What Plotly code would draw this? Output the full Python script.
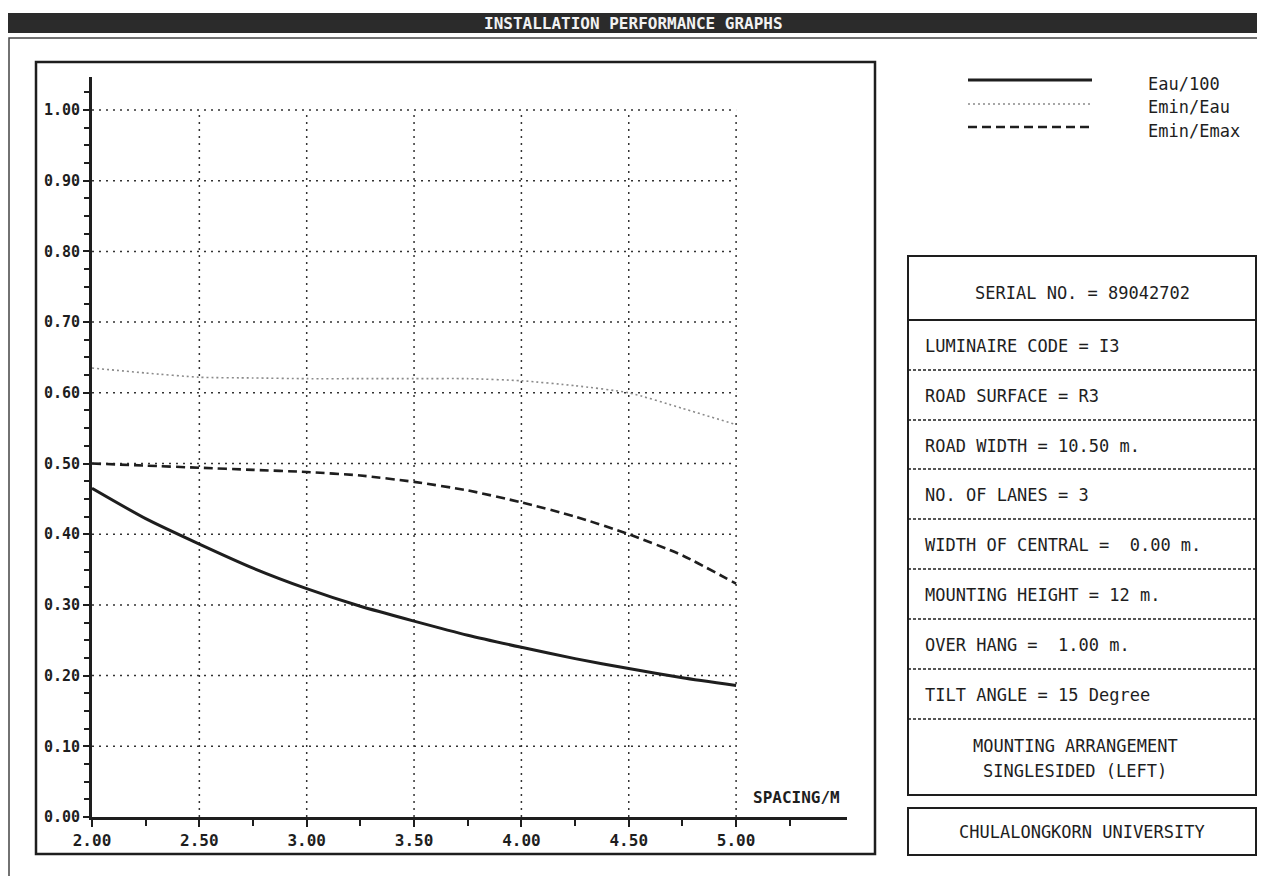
import plotly.graph_objects as go

# ---------------- data ----------------
spacing = [2.00, 2.25, 2.50, 2.75, 3.00, 3.25, 3.50, 3.75, 4.00, 4.25, 4.50, 4.75, 5.00]
eau_100 = [0.465, 0.422, 0.386, 0.352, 0.323, 0.298, 0.277, 0.257, 0.240, 0.224, 0.210, 0.197, 0.186]
emin_eau = [0.635, 0.628, 0.622, 0.621, 0.620, 0.620, 0.620, 0.620, 0.617, 0.610, 0.600, 0.578, 0.555]
emin_emax = [0.500, 0.497, 0.494, 0.491, 0.488, 0.483, 0.474, 0.462, 0.445, 0.425, 0.400, 0.370, 0.330]

series_names = ["Eau/100", "Emin/Eau", "Emin/Emax"]

x_ticks = [2.00, 2.50, 3.00, 3.50, 4.00, 4.50, 5.00]
x_tick_labels = ["2.00", "2.50", "3.00", "3.50", "4.00", "4.50", "5.00"]
x_minor = [2.25, 2.75, 3.25, 3.75, 4.25, 4.75, 5.25]
y_ticks = [0.0, 0.1, 0.2, 0.3, 0.4, 0.5, 0.6, 0.7, 0.8, 0.9, 1.0]
y_tick_labels = ["0.00", "0.10", "0.20", "0.30", "0.40", "0.50", "0.60", "0.70", "0.80", "0.90", "1.00"]
y_minor = [round(0.025 * i, 3) for i in range(1, 42) if i % 4 != 0]

info_rows = [
    "LUMINAIRE CODE = I3",
    "ROAD SURFACE = R3",
    "ROAD WIDTH = 10.50 m.",
    "NO. OF LANES = 3",
    "WIDTH OF CENTRAL =  0.00 m.",
    "MOUNTING HEIGHT = 12 m.",
    "OVER HANG =  1.00 m.",
    "TILT ANGLE = 15 Degree",
]
serial_text = "SERIAL NO. = 89042702"
arrangement_text = ["MOUNTING ARRANGEMENT", "SINGLESIDED (LEFT)"]
footer_text = "CHULALONGKORN UNIVERSITY"
title_text = "INSTALLATION PERFORMANCE GRAPHS"

# ---------------- layout helpers (reference-page pixel positions) ----------------
PAGE_W, PAGE_H = 1265, 876
OFF = 8                      # browser body margin
FIG_W, FIG_H = PAGE_W - OFF, PAGE_H - OFF
L, R, T, B = 92, 847, 77, 817
PW, PH = R - L, B - T


def px(x):
    return (x - L) / PW


def py(y):
    return (B - y) / PH


INK = "#1e1e1e"
FONT = "DejaVu Sans Mono"

fig = go.Figure()

line_styles = [
    dict(color=INK, width=3, dash="solid"),
    dict(color="#8a8a8a", width=1.6, dash="2px,3px"),
    dict(color=INK, width=2.6, dash="9px,5px"),
]
for name, vals, st in zip(series_names, [eau_100, emin_eau, emin_emax], line_styles):
    fig.add_trace(go.Scatter(x=spacing, y=vals, mode="lines", name=name,
                             line=dict(shape="spline", smoothing=0.6, **st),
                             showlegend=False, hoverinfo="x+y+name"))

shapes = []
grid_style = dict(color="#333333", width=1.5, dash="2px,5px")
for yv in y_ticks[1:]:
    shapes.append(dict(type="line", xref="x", yref="y", x0=x_ticks[0], x1=x_ticks[-1],
                       y0=yv, y1=yv, line=grid_style, layer="below"))
for xv in x_ticks[1:]:
    shapes.append(dict(type="line", xref="x", yref="y", x0=xv, x1=xv,
                       y0=y_ticks[0], y1=y_ticks[-1], line=grid_style, layer="below"))


def rect(x0, y0, x1, y1, **kw):
    d = dict(type="rect", xref="paper", yref="paper", x0=px(x0), x1=px(x1),
             y0=py(y1), y1=py(y0), line=dict(color=INK, width=2), fillcolor="rgba(0,0,0,0)")
    d.update(kw)
    return d


def hline(x0, x1, y, **lk):
    ln = dict(color=INK, width=2)
    ln.update(lk)
    return dict(type="line", xref="paper", yref="paper", x0=px(x0), x1=px(x1),
                y0=py(y), y1=py(y), line=ln)


# title bar
shapes.append(rect(OFF, 13, PAGE_W, 33, fillcolor="#2b2b2b", line=dict(width=0), layer="below"))
# outer page frame
shapes.append(rect(9, 38, 1262, 880, line=dict(color="#444444", width=1.5)))
# graph panel frame
shapes.append(rect(36, 62, 875, 854, line=dict(color=INK, width=2.5)))

# legend sample lines
leg_y = [80, 104, 127]
for st, yy in zip(line_styles, leg_y):
    shapes.append(hline(968, 1092, yy, color=st["color"], width=st["width"], dash=st["dash"]))

# info box
shapes.append(rect(908, 256, 1256, 795, line=dict(color=INK, width=2)))
shapes.append(hline(908, 1256, 320, width=2))
row_bounds = [320, 370, 420, 469, 519, 569, 619, 669, 719]
for yb in row_bounds[1:]:
    shapes.append(hline(908, 1256, yb, width=1.5, dash="3px,2px"))
# footer box
shapes.append(rect(908, 808, 1256, 855, line=dict(color=INK, width=2)))

annotations = []


def text(x, y, s, size=17, anchor="left", color=INK, weight="normal"):
    annotations.append(dict(x=px(x), y=py(y), xref="paper", yref="paper", text=s,
                            showarrow=False, xanchor=anchor, yanchor="middle",
                            font=dict(family=FONT, size=size, color=color, weight=weight)))


text(633, 23, title_text, size=16, anchor="center", color="#f2f2f2", weight="bold")
for name, yy in zip(series_names, [84, 107, 131]):
    text(1146, yy, name)
text(1082, 293, serial_text, anchor="center")
for s, y0, y1 in zip(info_rows, row_bounds[:-1], row_bounds[1:]):
    text(923, (y0 + y1) / 2 + 1, s)
text(1075, 746, arrangement_text[0], anchor="center")
text(1075, 771, arrangement_text[1], anchor="center")
text(1082, 832, footer_text, anchor="center")
text(842, 797, "SPACING/M", size=16, anchor="right", weight="bold")

fig.update_layout(
    width=FIG_W, height=FIG_H,
    margin=dict(l=L - OFF, r=PAGE_W - R, t=T - OFF, b=PAGE_H - B, pad=0),
    paper_bgcolor="white", plot_bgcolor="white",
    shapes=shapes, annotations=annotations,
    showlegend=False,
    xaxis=dict(range=[2.0, 2.0 + (R - L) / 214.7], tickvals=x_ticks, ticktext=x_tick_labels,
               showgrid=False, zeroline=False, showline=True, linecolor=INK, linewidth=3,
               ticks="outside", ticklen=7, tickwidth=2, tickcolor=INK,
               minor=dict(tickvals=x_minor, ticks="outside", ticklen=6, tickwidth=2, tickcolor=INK),
               tickfont=dict(family=FONT, size=16, color=INK, weight="bold")),
    yaxis=dict(range=[0.0, (B - T) / 707.0], tickvals=y_ticks, ticktext=y_tick_labels,
               showgrid=False, zeroline=False, showline=True, linecolor=INK, linewidth=3,
               ticks="outside", ticklen=6, tickwidth=2, tickcolor=INK,
               minor=dict(tickvals=y_minor, ticks="outside", ticklen=5, tickwidth=2, tickcolor=INK),
               tickfont=dict(family=FONT, size=15, color=INK, weight="bold")),
)

fig.write_html("out.html")
